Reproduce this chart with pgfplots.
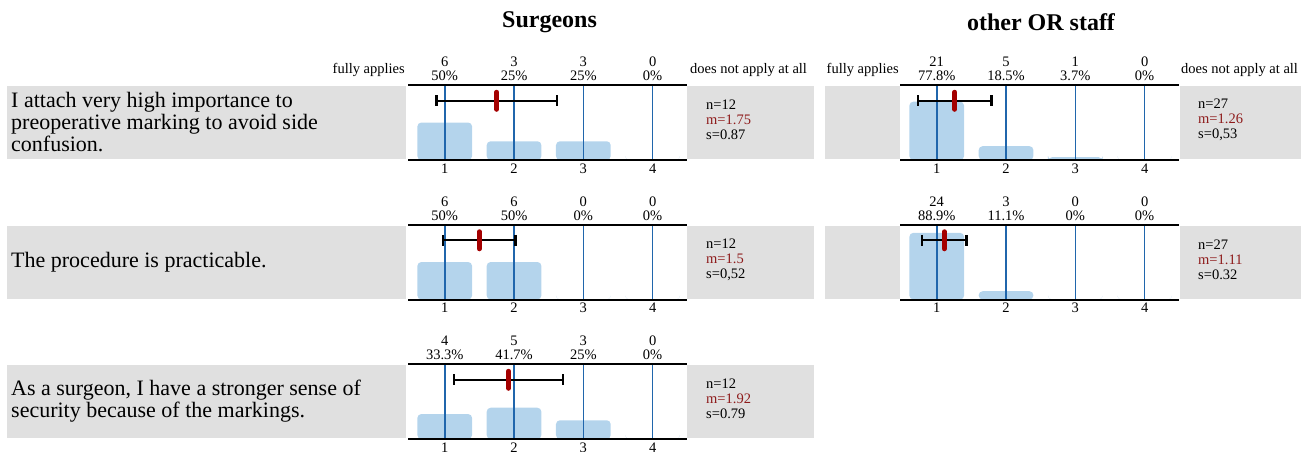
\documentclass[border=0pt]{standalone}
\usepackage{pgfplots}
\pgfplotsset{compat=1.18}
\usepackage{fontspec}
\setmainfont{Liberation Serif}
\definecolor{boxgray}{HTML}{E0E0E0}
\definecolor{barblue}{HTML}{B4D4EC}
\definecolor{lineblue}{HTML}{2066AC}
\definecolor{meanred}{HTML}{A40000}
\definecolor{statred}{HTML}{8E1B1B}
\newcommand\sm{\fontsize{14.5}{15}\selectfont}
\newcommand\qfont{\fontsize{22}{22}\selectfont}
\newcommand\tl[3]{%
  \node[font=\sm, inner sep=0, anchor=center] at (axis cs:#1,100) [yshift=23pt] {#2};
  \node[font=\sm, inner sep=0, anchor=center] at (axis cs:#1,100) [yshift=9pt] {#3};}
\pgfplotsset{
  likert/.style={
    scale only axis, width=278.6pt, height=75pt,
    xmin=0.47, xmax=4.49, ymin=0, ymax=100,
    axis line style={draw=none},
    xtick={1,2,3,4}, ytick=\empty,
    major tick length=0pt,
    xticklabel style={font=\sm},
    /pgf/number format/assume math mode=true,
    anchor=north west, clip=false,
  },
  bars/.style={ybar, bar width=0.79, fill=barblue, draw=none, rounded corners=4pt},
  vlines/.style={ycomb, lineblue, line width=1.6pt, no marks},
  errbar/.style={black, line width=2.4pt, mark=|, mark size=5.5pt, mark options={line width=2.2pt}},
  meanmark/.style={only marks, mark=|, mark size=8.5pt, mark options={line width=5pt, line cap=round, color=meanred}},
}
\newcommand\frameline{%
  \draw[line width=2pt] (rel axis cs:0,0) -- (rel axis cs:1,0);
  \draw[line width=2pt] (rel axis cs:0,1) -- (rel axis cs:1,1);}
\begin{document}
\begin{tikzpicture}[x=1pt,y=1pt]
\useasboundingbox (0,0) rectangle (1301,-451);
% titles
\node[font=\bfseries\fontsize{24}{24}\selectfont] at (549.5,-22) {Surgeons};
\node[font=\bfseries\fontsize{24}{24}\selectfont] at (1041,-22) {other OR staff};
% anchors text
\node[font=\sm, anchor=east, inner sep=0] at (405,-70) {fully applies};
\node[font=\sm, anchor=west, inner sep=0] at (690,-70) {does not apply at all};
\node[font=\sm, anchor=east, inner sep=0] at (899,-70) {fully applies};
\node[font=\sm, anchor=west, inner sep=0] at (1181,-70) {does not apply at all};
% gray boxes
\fill[boxgray] (7,-86) rectangle (406,-159);
\fill[boxgray] (687,-86) rectangle (814,-159);
\fill[boxgray] (825,-86) rectangle (900,-159);
\fill[boxgray] (1180,-86) rectangle (1301,-159);
\fill[boxgray] (7,-225.5) rectangle (406,-298.5);
\fill[boxgray] (687,-225.5) rectangle (814,-298.5);
\fill[boxgray] (825,-225.5) rectangle (900,-298.5);
\fill[boxgray] (1180,-225.5) rectangle (1301,-298.5);
\fill[boxgray] (7,-365) rectangle (406,-438);
\fill[boxgray] (687,-365) rectangle (814,-438);
% question texts
\node[font=\qfont, anchor=west, align=left, inner sep=0] at (11,-122.5) {I attach very high importance to\\preoperative marking to avoid side\\confusion.};
\node[font=\qfont, anchor=west, align=left, inner sep=0] at (11,-262) {The procedure is practicable.};
\node[font=\qfont, anchor=west, align=left, inner sep=0] at (11,-401.5) {As a surgeon, I have a stronger sense of\\security because of the markings.};
% stats
\node[font=\sm, anchor=west, align=left, inner sep=0] at (706,-120) {n=12\\\textcolor{statred}{m=1.75}\\s=0.87};
\node[font=\sm, anchor=west, align=left, inner sep=0] at (706,-259.5) {n=12\\\textcolor{statred}{m=1.5}\\s=0,52};
\node[font=\sm, anchor=west, align=left, inner sep=0] at (706,-399) {n=12\\\textcolor{statred}{m=1.92}\\s=0.79};
\node[font=\sm, anchor=west, align=left, inner sep=0] at (1198,-120) {n=27\\\textcolor{statred}{m=1.26}\\s=0,53};
\node[font=\sm, anchor=west, align=left, inner sep=0] at (1198,-259.5) {n=27\\\textcolor{statred}{m=1.11}\\s=0.32};

% ---- Surgeons Q1
\begin{axis}[likert, at={(408pt,-85pt)}]
\addplot[bars] coordinates {(1,50) (2,25) (3,25) (4,0)};
\addplot[vlines] coordinates {(1,100) (2,100) (3,100) (4,100)};
\addplot[errbar] coordinates {(0.88,79) (2.62,79)};
\addplot[meanmark] coordinates {(1.75,79)};
\frameline
\tl{1}{6}{50\%}\tl{2}{3}{25\%}\tl{3}{3}{25\%}\tl{4}{0}{0\%}
\end{axis}
% ---- Surgeons Q2
\begin{axis}[likert, at={(408pt,-224.5pt)}]
\addplot[bars] coordinates {(1,50) (2,50) (3,0) (4,0)};
\addplot[vlines] coordinates {(1,100) (2,100) (3,100) (4,100)};
\addplot[errbar] coordinates {(0.98,79) (2.02,79)};
\addplot[meanmark] coordinates {(1.5,79)};
\frameline
\tl{1}{6}{50\%}\tl{2}{6}{50\%}\tl{3}{0}{0\%}\tl{4}{0}{0\%}
\end{axis}
% ---- Surgeons Q3
\begin{axis}[likert, at={(408pt,-364pt)}]
\addplot[bars] coordinates {(1,33.3) (2,41.7) (3,25) (4,0)};
\addplot[vlines] coordinates {(1,100) (2,100) (3,100) (4,100)};
\addplot[errbar] coordinates {(1.13,79) (2.71,79)};
\addplot[meanmark] coordinates {(1.92,79)};
\frameline
\tl{1}{4}{33.3\%}\tl{2}{5}{41.7\%}\tl{3}{3}{25\%}\tl{4}{0}{0\%}
\end{axis}
% ---- OR staff Q1
\begin{axis}[likert, at={(900pt,-85pt)}]
\addplot[bars] coordinates {(1,77.8) (2,18.5) (3,3.7) (4,0)};
\addplot[vlines] coordinates {(1,100) (2,100) (3,100) (4,100)};
\addplot[errbar] coordinates {(0.73,79) (1.79,79)};
\addplot[meanmark] coordinates {(1.26,79)};
\frameline
\tl{1}{21}{77.8\%}\tl{2}{5}{18.5\%}\tl{3}{1}{3.7\%}\tl{4}{0}{0\%}
\end{axis}
% ---- OR staff Q2
\begin{axis}[likert, at={(900pt,-224.5pt)}]
\addplot[bars] coordinates {(1,88.9) (2,11.1) (3,0) (4,0)};
\addplot[vlines] coordinates {(1,100) (2,100) (3,100) (4,100)};
\addplot[errbar] coordinates {(0.79,79) (1.43,79)};
\addplot[meanmark] coordinates {(1.11,79)};
\frameline
\tl{1}{24}{88.9\%}\tl{2}{3}{11.1\%}\tl{3}{0}{0\%}\tl{4}{0}{0\%}
\end{axis}
\end{tikzpicture}
\end{document}
